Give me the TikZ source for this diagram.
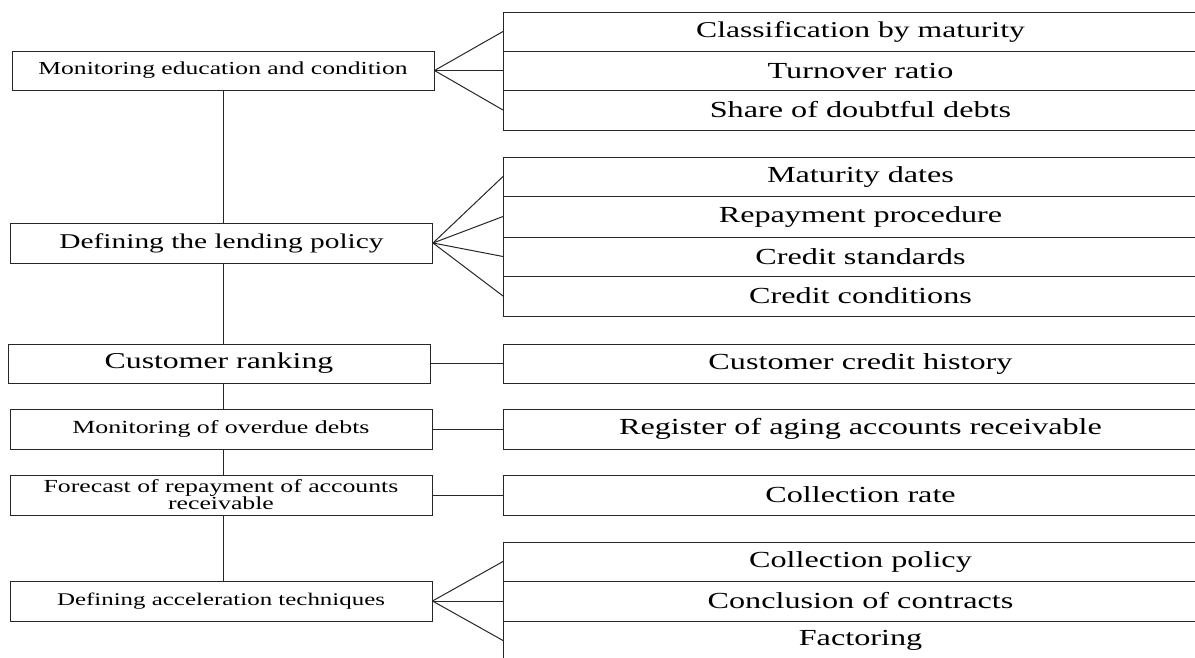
\documentclass[tikz,border=0pt]{standalone}
\usepackage{fontspec}
\setmainfont[FakeStretch=1.4]{Liberation Serif}
\newcommand{\fsz}[1]{\fontsize{#1}{17}\selectfont}
\begin{document}
\begin{tikzpicture}[x=1pt,y=-1pt,line width=1pt,draw=black!85,
  lbox/.style={draw,rectangle,inner sep=0pt,minimum width=422pt,minimum height=40pt,align=center,font=\fsz{18.5}},
  rbox/.style={draw,rectangle,inner sep=0pt,minimum width=714pt,anchor=west,align=center,font=\fsz{23}},
  link/.style={draw=black!85,line width=1pt}]
\clip (0,0) rectangle (1195,657);
% left column
\node[lbox,minimum height=39pt,font=\fsz{18.3}] (L1) at (223,70.5) {Monitoring education and condition};
\node[lbox,font=\fsz{21}] (L2) at (221.5,243) {Defining the lending policy};
\node[lbox,minimum height=39pt,font=\fsz{22.7}] (L3) at (219,363.5) {Customer ranking};
\node[lbox] (L4) at (221,429) {Monitoring of overdue debts};
\node[lbox,font=\fsz{18.4}] (L5) at (221,495) {Forecast of repayment of accounts\\receivable};
\node[lbox,font=\fsz{17.8}] (L6) at (221,601) {Defining acceleration techniques};
% vertical spine
\draw[link] (L1.south) -- (L1.south |- L2.north);
\draw[link] (L1.south |- L2.south) -- (L1.south |- L3.north);
\draw[link] (L1.south |- L3.south) -- (L1.south |- L4.north);
\draw[link] (L1.south |- L4.south) -- (L1.south |- L5.north);
\draw[link] (L1.south |- L5.south) -- (L1.south |- L6.north);
% right group 1
\node[rbox,minimum height=39pt,font=\fsz{22.6}] (A1) at (503,31.5) {Classification by maturity};
\node[rbox,minimum height=39pt] (A2) at (503,70.5) {Turnover ratio};
\node[rbox,minimum height=40pt] (A3) at (503,110) {Share of doubtful debts};
% right group 2
\node[rbox,minimum height=39pt] (B1) at (503,176.5) {Maturity dates};
\node[rbox,minimum height=41pt] (B2) at (503,216.5) {Repayment procedure};
\node[rbox,minimum height=39pt] (B3) at (503,256.5) {Credit standards};
\node[rbox,minimum height=40pt] (B4) at (503,296) {Credit conditions};
% single boxes
\node[rbox,minimum height=39pt] (C1) at (503,363.5) {Customer credit history};
\node[rbox,minimum height=40pt] (D1) at (503,429) {Register of aging accounts receivable};
\node[rbox,minimum height=40pt] (E1) at (503,495) {Collection rate};
% right group 6
\node[rbox,minimum height=39pt] (F1) at (503,561.5) {Collection policy};
\node[rbox,minimum height=40pt] (F2) at (503,601) {Conclusion of contracts};
\node[rbox,minimum height=39pt] (F3) at (503,640.5) {Factoring};
% fans
\foreach \t in {A1,A2,A3} \draw[link] (L1.east) -- (\t.west);
\foreach \t in {B1,B2,B3,B4} \draw[link] (L2.east) -- (\t.west);
\draw[link] (L3.east) -- (C1.west);
\draw[link] (L4.east) -- (D1.west);
\draw[link] (L5.east) -- (E1.west);
\foreach \t in {F1,F2,F3} \draw[link] (L6.east) -- (\t.west);
\end{tikzpicture}
\end{document}
